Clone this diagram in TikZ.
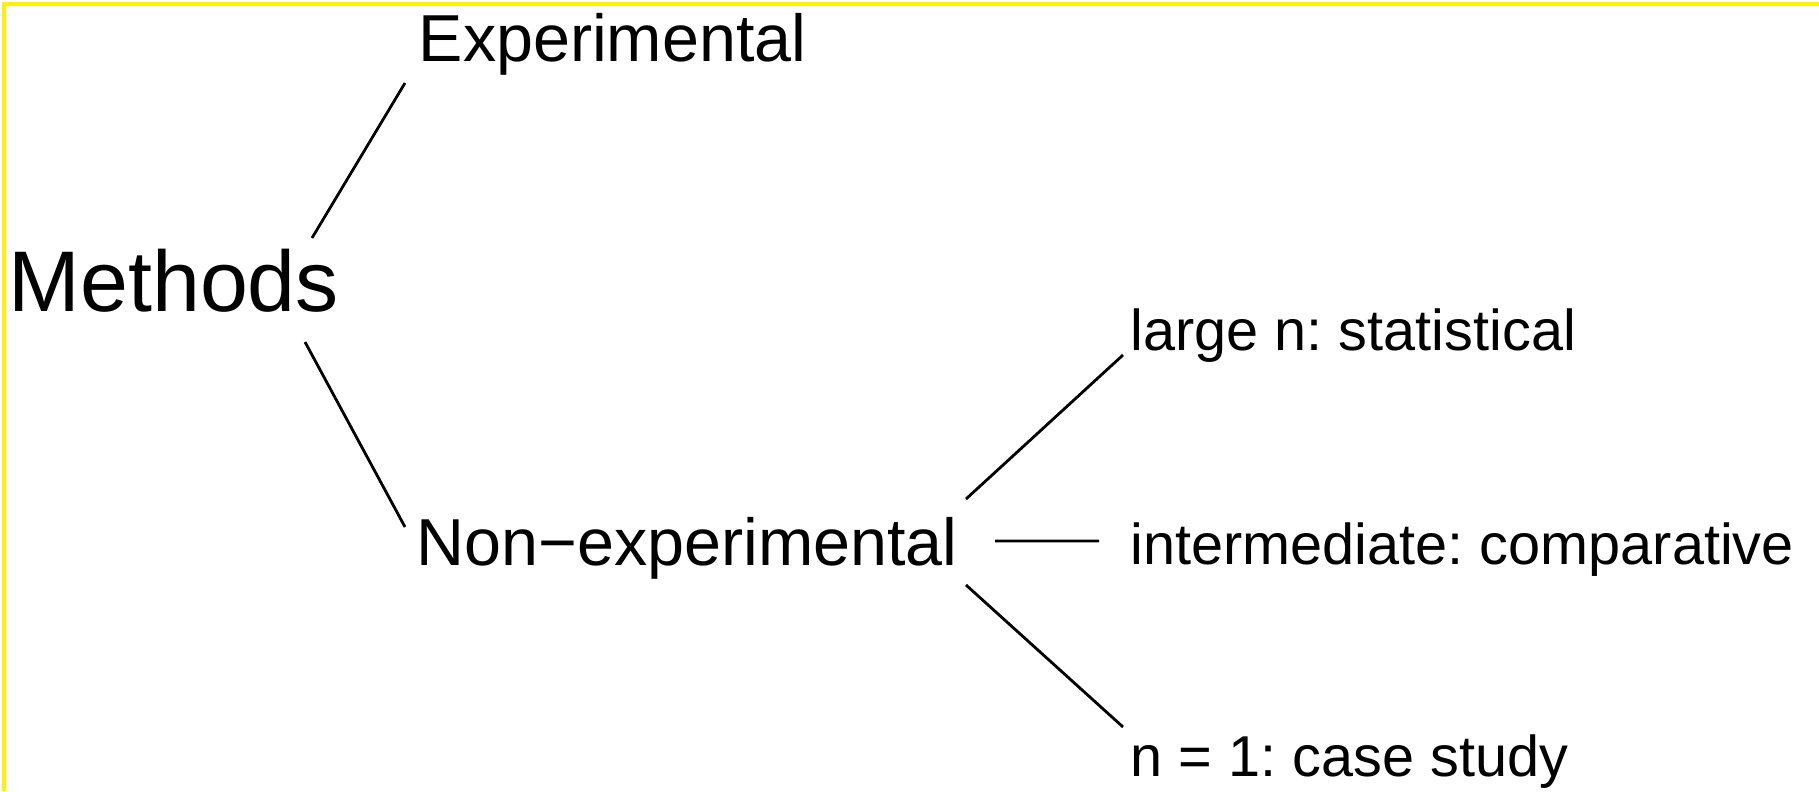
\documentclass[tikz,border=0pt]{standalone}
\usepackage{fontspec}
\setmainfont{Liberation Sans}
\frenchspacing
\tikzset{
  every node/.append style={inner sep=0pt, anchor=base west},
  root/.style={font=\fontsize{24.5}{29}\selectfont},
  branch/.style={font=\fontsize{18.9}{22}\selectfont},
  leaf/.style={font=\fontsize{16.4}{19}\selectfont},
  twig/.style={line width=0.8pt},
  frame/.style={yellow, line width=1.2pt},
}
\begin{document}
\begin{tikzpicture}
\useasboundingbox (0,0) rectangle (18.19,7.91);
\draw[frame] (0.04,0) -- (0.04,7.87) -- (18.19,7.87);
\node[root]   (methods) at (0.08,4.79) {Methods};
\node[branch] (exper)   at (4.18,7.29) {Experimental};
\node[branch] (nonexp)  at (4.16,2.25) {Non−experimental};
\node[leaf]   (large)   at (11.30,4.40) {large n: statistical};
\node[leaf]   (inter)   at (11.30,2.26) {intermediate: comparative};
\node[leaf]   (single)  at (11.30,0.14) {n = 1: case study};
\draw[twig] ([shift={(3.04,0.74)}]methods.base west) -- ([shift={(-0.13,-0.21)}]exper.base west);
\draw[twig] ([shift={(2.97,-0.30)}]methods.base west) -- ([shift={(-0.11,0.39)}]nonexp.base west);
\draw[twig] ([shift={(5.50,0.67)}]nonexp.base west) -- ([shift={(-0.07,-0.04)}]large.base west);
\draw[twig] ([shift={(5.79,0.25)}]nonexp.base west) -- ([shift={(-0.31,0.24)}]inter.base west);
\draw[twig] ([shift={(5.50,-0.19)}]nonexp.base west) -- ([shift={(-0.07,0.50)}]single.base west);
\end{tikzpicture}
\end{document}
